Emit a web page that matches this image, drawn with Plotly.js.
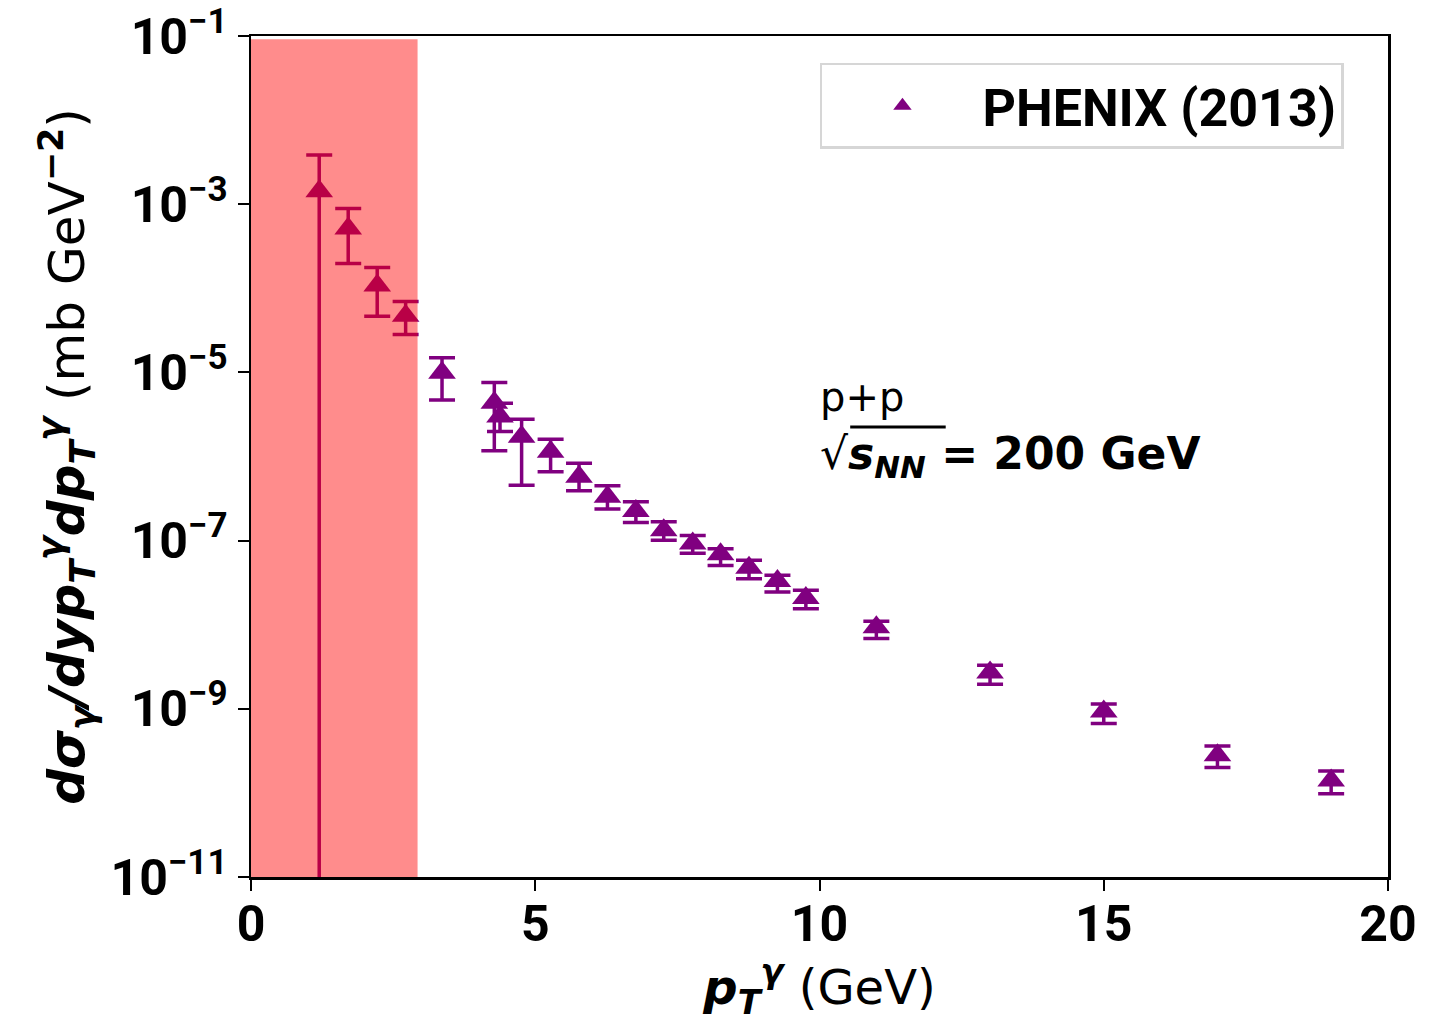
<!DOCTYPE html>
<html>
<head>
<meta charset="utf-8">
<script src="https://cdn.plot.ly/plotly-3.0.1.min.js"></script>
<style>
  html, body { margin: 0; padding: 0; background: #ffffff; }
  #chart { width: 1439px; height: 1022px; }
</style>
</head>
<body>
<div id="chart"></div>
<script>
// ---- data ----
const ptGamma = [1.2, 1.71, 2.22, 2.72, 3.36, 4.28, 4.38, 4.76, 5.27, 5.77, 6.27, 6.77, 7.26, 7.77, 8.26, 8.76, 9.26, 9.76, 11.0, 13.0, 15.0, 17.0, 19.0];
const crossSection = [1.43e-3, 5.15e-4, 1.08e-4, 4.73e-5, 9.9e-6, 4.35e-6, 2.98e-6, 1.72e-6, 1.14e-6, 5.74e-7, 3.32e-7, 2.25e-7, 1.33e-7, 9.22e-8, 6.89e-8, 4.75e-8, 3.3e-8, 2.08e-8, 9.35e-9, 2.7e-9, 9.27e-10, 2.81e-10, 1.4e-10];
const errUpperBound = [3.85e-3, 8.9e-4, 1.77e-4, 6.95e-5, 1.49e-5, 7.59e-6, 4.3e-6, 2.77e-6, 1.6e-6, 8.3e-7, 4.49e-7, 2.89e-7, 1.67e-7, 1.15e-7, 8.02e-8, 5.83e-8, 3.88e-8, 2.56e-8, 1.1e-8, 3.3e-9, 1.14e-9, 3.6e-10, 1.82e-10];
const errLowerBound = [1e-13, 1.97e-4, 4.65e-5, 2.83e-5, 4.71e-6, 1.17e-6, 1.98e-6, 4.54e-7, 6.59e-7, 3.91e-7, 2.37e-7, 1.64e-7, 1.01e-7, 7.06e-8, 5.07e-8, 3.53e-8, 2.45e-8, 1.55e-8, 6.87e-9, 1.96e-9, 6.68e-10, 2.0e-10, 9.8e-11];
const seriesName = "PHENIX (2013)";
const bandRange = [0, 2.93];
const xTickVals = [0, 5, 10, 15, 20];
const xTickText = ["0", "5", "10", "15", "20"];
const yTickVals = [1e-1, 1e-3, 1e-5, 1e-7, 1e-9, 1e-11];
const yTickText = ["10<sup>−1</sup>", "10<sup>−3</sup>", "10<sup>−5</sup>", "10<sup>−7</sup>", "10<sup>−9</sup>", "10<sup>−11</sup>"];

const errPlus = crossSection.map((v, i) => errUpperBound[i] - v);
const errMinus = crossSection.map((v, i) => v - errLowerBound[i]);

const PURPLE = "#800080";
const tickFont = { family: "Roboto, 'Liberation Sans', sans-serif", size: 50, color: "#000", weight: "bold" };

const trace = {
  type: "scatter",
  mode: "markers",
  x: ptGamma,
  y: crossSection,
  name: seriesName,
  marker: { symbol: "triangle-up", size: 24, color: PURPLE, line: { width: 0 } },
  error_y: {
    type: "data", symmetric: false,
    array: errPlus, arrayminus: errMinus,
    color: PURPLE, thickness: 3.5, width: 13
  },
  cliponaxis: true
};

const layout = {
  width: 1439, height: 1022,
  margin: { l: 251, r: 51, t: 36, b: 145 },
  paper_bgcolor: "#ffffff",
  plot_bgcolor: "#ffffff",
  showlegend: true,
  legend: {
    x: 0.5004, y: 0.968, xanchor: "left", yanchor: "top",
    bgcolor: "#ffffff", bordercolor: "#d6d6d6", borderwidth: 2.5,
    font: { family: "Roboto, 'Liberation Sans', sans-serif", size: 52, color: "#000", weight: "bold" },
    itemwidth: 150,
    tracegroupgap: 0
  },
  xaxis: {
    range: [0, 20],
    tickvals: xTickVals, ticktext: xTickText,
    ticks: "outside", ticklen: 11, tickwidth: 2, tickcolor: "#000",
    ticklabelstandoff: -10,
    showline: true, linecolor: "#000", linewidth: 2.5, mirror: true,
    showgrid: false, zeroline: false,
    tickfont: tickFont,
    title: {
      text: "<b><i>p<sub>T</sub><sup>γ</sup></i></b> (GeV)",
      font: { family: "'DejaVu Sans', sans-serif", size: 48, color: "#000" },
      standoff: 14
    }
  },
  yaxis: {
    type: "log",
    range: [-11, -1],
    tickvals: yTickVals, ticktext: yTickText,
    ticks: "outside", ticklen: 11, tickwidth: 2, tickcolor: "#000",
    showline: true, linecolor: "#000", linewidth: 2.5, mirror: true,
    showgrid: false, zeroline: false,
    tickfont: tickFont,
    title: {
      text: "<b><i>dσ<sub>γ</sub>/dyp<sub>T</sub><sup>γ</sup>dp<sub>T</sub><sup>γ</sup></i></b> (mb GeV<sup><b>−2</b></sup>)",
      font: { family: "'DejaVu Sans', sans-serif", size: 50, color: "#000" },
      standoff: 10
    }
  },
  shapes: [
    {
      type: "rect", layer: "above",
      xref: "x", yref: "paper",
      x0: bandRange[0], x1: bandRange[1], y0: 0, y1: 0.996,
      fillcolor: "rgba(255,0,0,0.45)", line: { width: 0 }
    },
    {
      type: "line", layer: "above",
      xref: "paper", yref: "paper",
      x0: 0.527, x1: 0.611, y0: 0.535, y1: 0.535,
      line: { color: "#000", width: 3 }
    }
  ],
  annotations: [
    {
      xref: "paper", yref: "paper", x: 0.499, y: 0.571,
      xanchor: "left", yanchor: "middle", showarrow: false,
      text: "p+p",
      font: { family: "'DejaVu Sans', sans-serif", size: 40, color: "#000" }
    },
    {
      xref: "paper", yref: "paper", x: 0.499, y: 0.500,
      xanchor: "left", yanchor: "middle", showarrow: false,
      text: "√<b><i>s<sub>NN</sub></i></b><b> = 200 GeV</b>",
      font: { family: "'DejaVu Sans', sans-serif", size: 44, color: "#000" }
    }
  ]
};

Plotly.newPlot("chart", [trace], layout, { displayModeBar: false, staticPlot: true });
</script>
</body>
</html>
